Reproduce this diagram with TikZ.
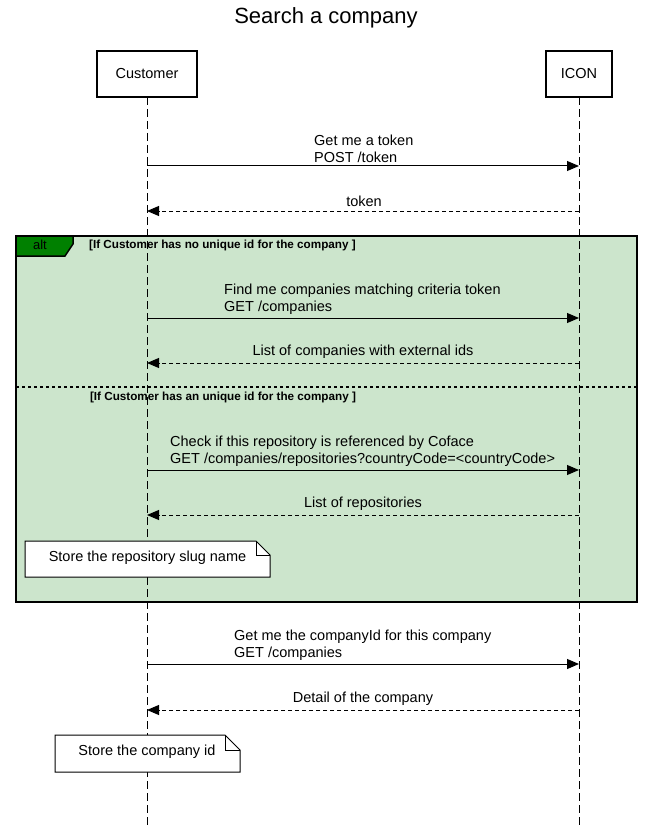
\documentclass[tikz,border=0pt]{standalone}
\usepackage{fontspec}
\setmainfont{Liberation Sans}
\usetikzlibrary{arrows.meta}
\definecolor{altfill}{RGB}{204,229,204}
\definecolor{tabfill}{RGB}{0,128,0}
\tikzset{
  lifebox/.style={draw=black,line width=1.4pt,fill=white},
  lifeline/.style={draw=black,line width=1pt,dash pattern=on 8pt off 4pt},
  msg/.style={draw=black,line width=1pt,-{Triangle[length=12pt,width=10pt]}},
  ret/.style={draw=black,line width=1pt,dash pattern=on 4pt off 3pt,-{Triangle[length=12pt,width=10pt]}},
  msgtxt/.style={font=\fontsize{14.5}{17.5}\selectfont,align=left,anchor=south west,inner sep=0pt},
  rettxt/.style={font=\fontsize{14.5}{17}\selectfont,anchor=south,inner sep=0pt},
  guard/.style={font=\bfseries\fontsize{11.7}{14}\selectfont,inner sep=0pt},
  notebox/.style={draw=black,line width=1pt,fill=white},
  notetxt/.style={font=\fontsize{14.5}{17}\selectfont,inner sep=0pt},
}
\begin{document}
\begin{tikzpicture}[x=1pt,y=-1pt]
\useasboundingbox (0,0) rectangle (653,829);
\fill[white] (0,0) rectangle (653,829);
% title
\node[font=\fontsize{22}{26}\selectfont,inner sep=0pt] (title) at (326,18) {Search a company};
% alt frame background
\draw[fill=altfill,line width=2pt] (16,236) rectangle (637,602);
% lifelines
\coordinate (ctop) at (147,97);
\coordinate (cbot) at (147,829);
\coordinate (itop) at (579,97);
\coordinate (ibot) at (579,829);
\draw[lifeline] (ctop) -- (cbot);
\draw[lifeline] (itop) -- (ibot);
% heads
\node[lifebox,minimum width=100pt,minimum height=46pt,font=\fontsize{14.5}{17}\selectfont] (cust) at (147,74) {Customer};
\node[lifebox,minimum width=66pt,minimum height=46pt,font=\fontsize{14.5}{17}\selectfont] (icon) at (579,74) {ICON};
% alt tab
\draw[fill=tabfill,line width=1.5pt] (16,236) -- (73,236) -- (73,244) -- (65,256) -- (16,256) -- cycle;
\node[font=\fontsize{13}{15}\selectfont,inner sep=0pt] (alt) at (40,245) {alt};
\node[guard,anchor=west] (g1) at (89,245) {[If Customer has no unique id for the company ]};
\draw[line width=2pt,dash pattern=on 3pt off 3pt] (16,387) -- (637,387);
\node[guard] (g2) at (223,397) {[If Customer has an unique id for the company ]};
% message 1
\coordinate (c1) at (147,166); \coordinate (i1) at (579,166);
\draw[msg] (c1) -- (i1);
\node[msgtxt] (m1) at (314,163) {Get me a token\\POST /token};
\coordinate (c2) at (147,211); \coordinate (i2) at (579,211);
\draw[ret] (i2) -- (c2);
\node[rettxt] (r1) at (364,207) {token};
% message 2
\coordinate (c3) at (147,318); \coordinate (i3) at (579,318);
\draw[msg] (c3) -- (i3);
\node[msgtxt] (m2) at (224,315) {Find me companies matching criteria token\\GET /companies};
\coordinate (c4) at (147,363); \coordinate (i4) at (579,363);
\draw[ret] (i4) -- (c4);
\node[rettxt] (r2) at (363,359) {List of companies with external ids};
% message 3
\coordinate (c5) at (147,470); \coordinate (i5) at (579,470);
\draw[msg] (c5) -- (i5);
\node[msgtxt] (m3) at (170,467) {Check if this repository is referenced by Coface\\GET /companies/repositories?countryCode=<countryCode>};
\coordinate (c6) at (147,515); \coordinate (i6) at (579,515);
\draw[ret] (i6) -- (c6);
\node[rettxt] (r3) at (363,511) {List of repositories};
% note 1
\draw[notebox] (25,541) -- (256,541) -- (270,555) -- (270,577) -- (25,577) -- cycle;
\draw[line width=1pt] (256,541) -- (256,555) -- (270,555);
\node[notetxt] (n1) at (147.5,558) {Store the repository slug name};
% message 4
\coordinate (c7) at (147,664); \coordinate (i7) at (579,664);
\draw[msg] (c7) -- (i7);
\node[msgtxt] (m4) at (234,661) {Get me the companyId for this company\\GET /companies};
\coordinate (c8) at (147,710); \coordinate (i8) at (579,710);
\draw[ret] (i8) -- (c8);
\node[rettxt] (r4) at (363,706) {Detail of the company};
% note 2
\draw[notebox] (55,735) -- (225,735) -- (240,750) -- (240,772) -- (55,772) -- cycle;
\draw[line width=1pt] (225,735) -- (225,750) -- (240,750);
\node[notetxt] (n2) at (147,752) {Store the company id};
\end{tikzpicture}
\end{document}
